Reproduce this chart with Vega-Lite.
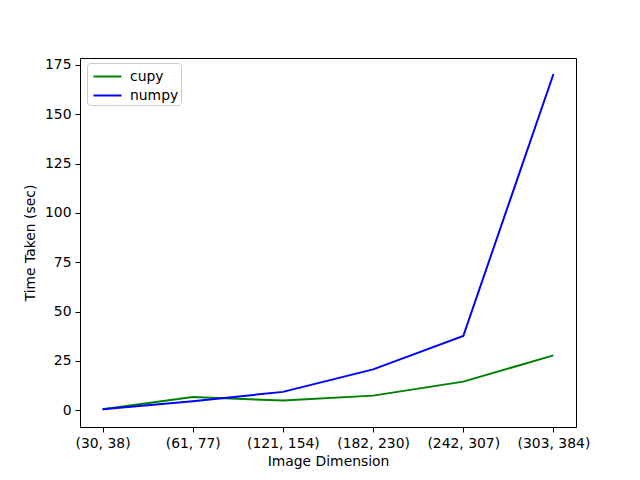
{
  "$schema": "https://vega.github.io/schema/vega-lite/v6.json",
  "width": 496,
  "height": 369,
  "autosize": "none",
  "padding": {"left": 80, "top": 58, "right": 64, "bottom": 53},
  "background": "white",
  "config": {
    "font": "DejaVu Sans",
    "view": {"stroke": "black", "strokeWidth": 1},
    "axis": {
      "grid": false,
      "domain": false,
      "tickColor": "black",
      "tickSize": 5,
      "tickWidth": 1,
      "labelColor": "black",
      "labelFontSize": 13.9,
      "labelPadding": 4,
      "titleFontSize": 13.9,
      "titleFontWeight": "normal",
      "titleColor": "black"
    }
  },
  "data": {
    "values": [
      {"dim": "(30, 38)", "series": "cupy", "value": 0.5},
      {"dim": "(61, 77)", "series": "cupy", "value": 6.7},
      {"dim": "(121, 154)", "series": "cupy", "value": 4.9},
      {"dim": "(182, 230)", "series": "cupy", "value": 7.4},
      {"dim": "(242, 307)", "series": "cupy", "value": 14.5},
      {"dim": "(303, 384)", "series": "cupy", "value": 27.8},
      {"dim": "(30, 38)", "series": "numpy", "value": 0.5},
      {"dim": "(61, 77)", "series": "numpy", "value": 4.6},
      {"dim": "(121, 154)", "series": "numpy", "value": 9.3},
      {"dim": "(182, 230)", "series": "numpy", "value": 20.7},
      {"dim": "(242, 307)", "series": "numpy", "value": 37.6},
      {"dim": "(303, 384)", "series": "numpy", "value": 170.4}
    ]
  },
  "mark": {"type": "line", "strokeWidth": 2},
  "encoding": {
    "x": {
      "field": "dim",
      "type": "ordinal",
      "sort": null,
      "scale": {"type": "point", "padding": 0.25},
      "axis": {"title": "Image Dimension", "labelAngle": 0, "titlePadding": 5}
    },
    "y": {
      "field": "value",
      "type": "quantitative",
      "scale": {"domain": [-8.5, 178.5], "nice": false, "zero": false},
      "axis": {"title": "Time Taken (sec)", "values": [0, 25, 50, 75, 100, 125, 150, 175], "titlePadding": 7}
    },
    "color": {
      "field": "series",
      "type": "nominal",
      "scale": {"domain": ["cupy", "numpy"], "range": ["#008000", "#0000ff"]},
      "legend": {
        "title": null,
        "orient": "none",
        "legendX": 7,
        "legendY": 5,
        "symbolType": "M-0.67,0H2",
        "symbolSize": 441,
        "symbolStrokeWidth": 2,
        "symbolFillColor": "transparent",
        "labelFontSize": 13.9,
        "labelColor": "black",
        "labelOffset": 18,
        "rowPadding": 0,
        "padding": 2,
        "fillColor": "white",
        "strokeColor": "#cccccc",
        "cornerRadius": 3
      }
    }
  }
}
